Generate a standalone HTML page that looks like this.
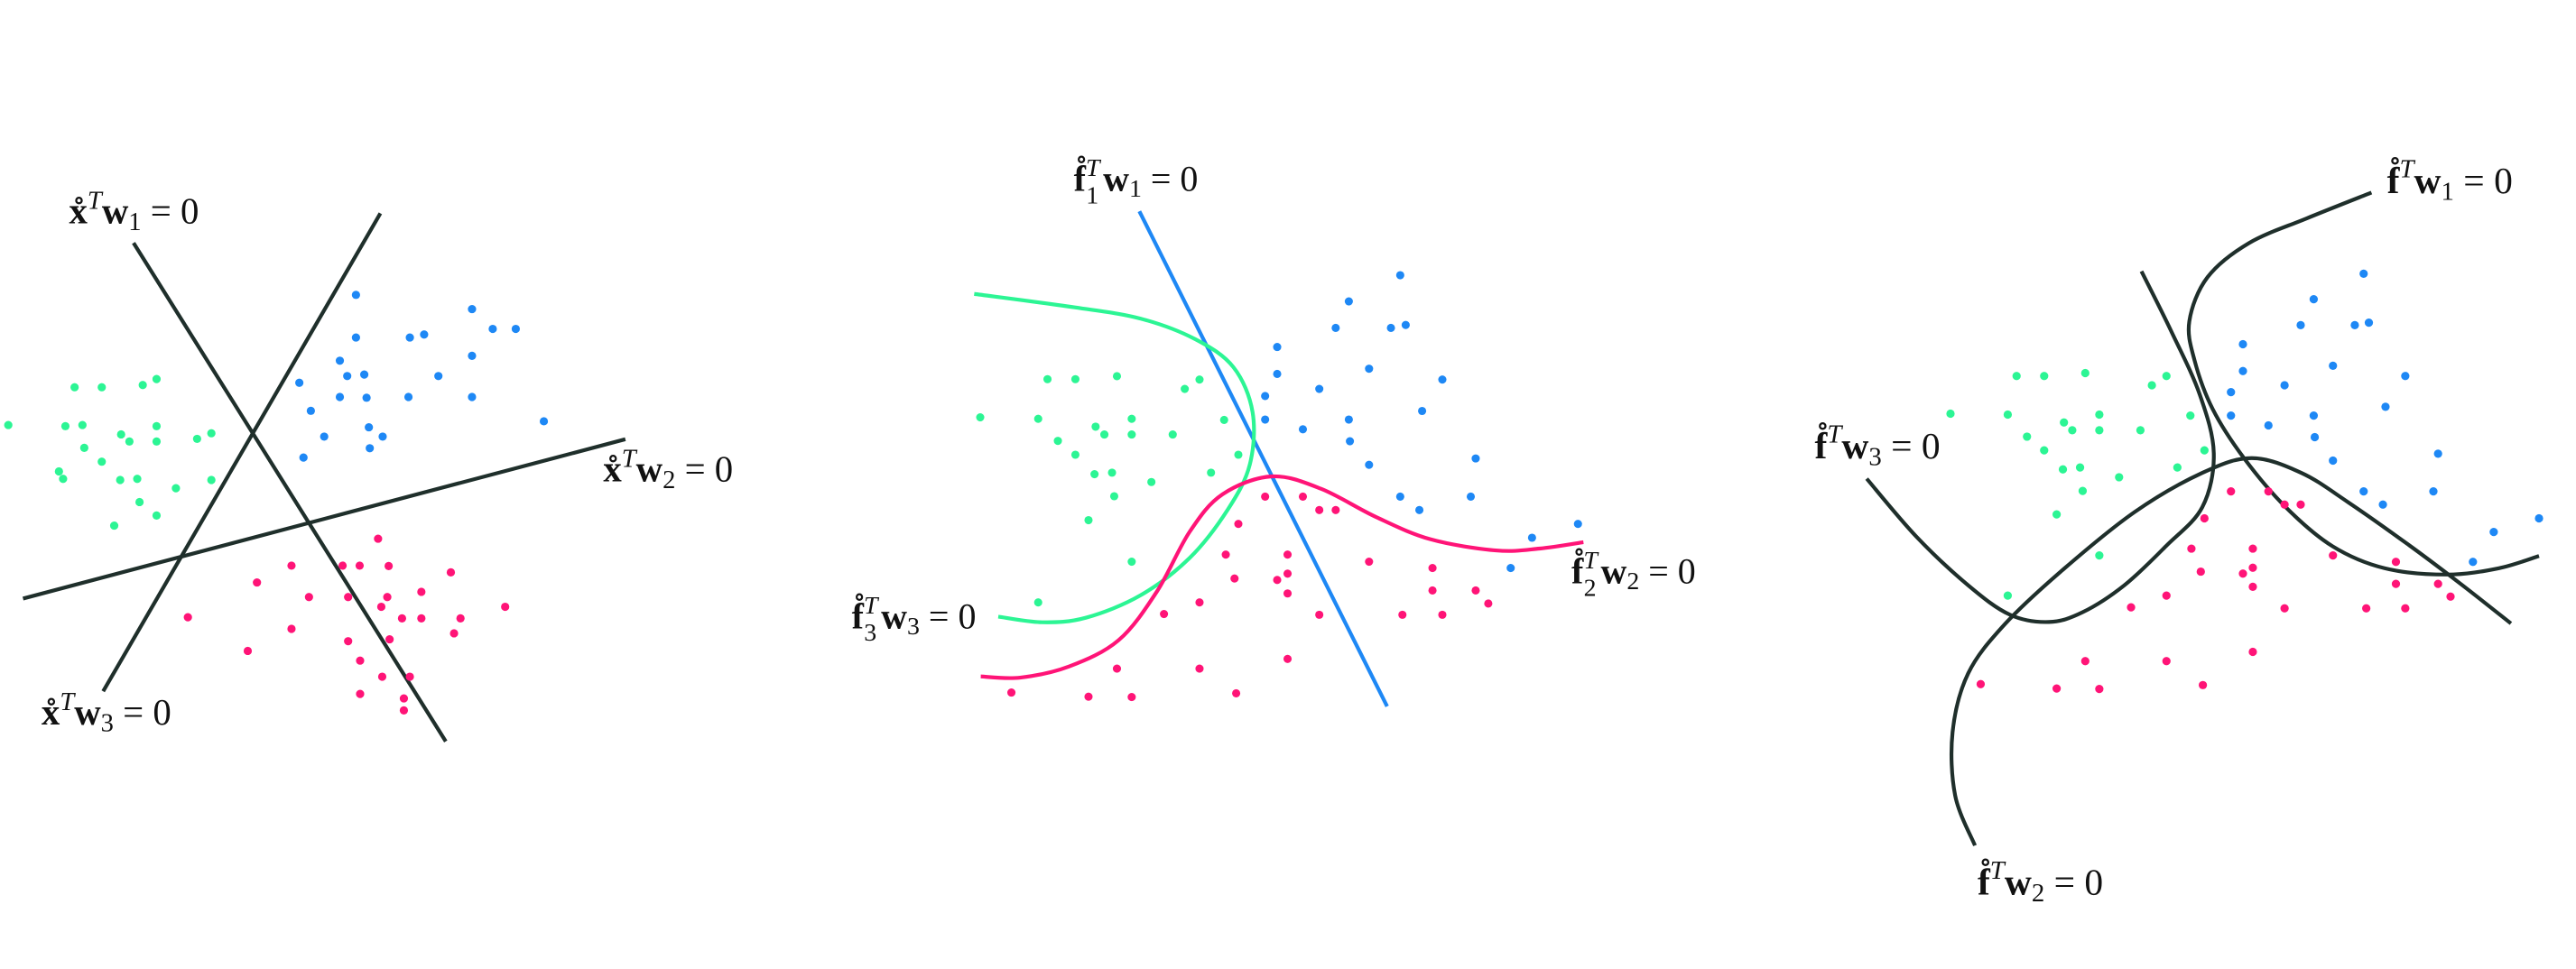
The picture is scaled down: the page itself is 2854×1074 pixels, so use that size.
<!DOCTYPE html>
<html><head><meta charset="utf-8"><style>
html,body{margin:0;padding:0;background:#fff;}
svg{display:block;}
text{font-family:"Liberation Serif",serif;fill:#111;}
.b{font-weight:bold;}
</style></head><body>
<svg id="fig" width="2854" height="1074" viewBox="0 0 2854 1074" xmlns="http://www.w3.org/2000/svg">
<rect width="2854" height="1074" fill="#fff"/>
<g id="p1" transform="translate(0,200) scale(0.5102,0.4145)">
<text transform="translate(150,115) scale(1,1.231)" font-size="80"><tspan class="b">x&#778;</tspan><tspan dy="-32" font-size="56" font-style="italic">T</tspan><tspan dy="32" class="b">w</tspan><tspan dy="14" font-size="56">1</tspan><tspan dy="-14"> = 0</tspan></text>
<text transform="translate(1310,805) scale(1,1.231)" font-size="80"><tspan class="b">x&#778;</tspan><tspan dy="-32" font-size="56" font-style="italic">T</tspan><tspan dy="32" class="b">w</tspan><tspan dy="14" font-size="56">2</tspan><tspan dy="-14"> = 0</tspan></text>
<text transform="translate(90,1455) scale(1,1.231)" font-size="80"><tspan class="b">x&#778;</tspan><tspan dy="-32" font-size="56" font-style="italic">T</tspan><tspan dy="32" class="b">w</tspan><tspan dy="14" font-size="56">3</tspan><tspan dy="-14"> = 0</tspan></text>
</g>
<g id="p2" transform="translate(900,150) scale(0.6059,0.4145)">
<text transform="translate(478,148) scale(1,1.462)" font-size="66"><tspan class="b">f&#778;</tspan><tspan dy="-27" font-size="46" font-style="italic">T</tspan><tspan dx="-25" dy="50" font-size="46">1</tspan><tspan dx="8" dy="-23" class="b">w</tspan><tspan dy="11" font-size="46">1</tspan><tspan dy="-11"> = 0</tspan></text>
<text transform="translate(1388,1198) scale(1,1.462)" font-size="66"><tspan class="b">f&#778;</tspan><tspan dy="-27" font-size="46" font-style="italic">T</tspan><tspan dx="-25" dy="50" font-size="46">2</tspan><tspan dx="8" dy="-23" class="b">w</tspan><tspan dy="11" font-size="46">2</tspan><tspan dy="-11"> = 0</tspan></text>
<text transform="translate(72,1318) scale(1,1.462)" font-size="66"><tspan class="b">f&#778;</tspan><tspan dy="-27" font-size="46" font-style="italic">T</tspan><tspan dx="-25" dy="50" font-size="46">3</tspan><tspan dx="8" dy="-23" class="b">w</tspan><tspan dy="11" font-size="46">3</tspan><tspan dy="-11"> = 0</tspan></text>
</g>
<g id="p3" transform="translate(1950,150) scale(0.5765,0.5421)">
<text transform="translate(1205,118) scale(1,1.0635)" font-size="72"><tspan class="b">f&#778;</tspan><tspan dy="-30" font-size="50" font-style="italic">T</tspan><tspan dy="30" class="b">w</tspan><tspan dy="13" font-size="50">1</tspan><tspan dy="-13"> = 0</tspan></text>
<text transform="translate(105,660) scale(1,1.0635)" font-size="72"><tspan class="b">f&#778;</tspan><tspan dy="-30" font-size="50" font-style="italic">T</tspan><tspan dy="30" class="b">w</tspan><tspan dy="13" font-size="50">3</tspan><tspan dy="-13"> = 0</tspan></text>
<text transform="translate(418,1552) scale(1,1.0635)" font-size="72"><tspan class="b">f&#778;</tspan><tspan dy="-30" font-size="50" font-style="italic">T</tspan><tspan dy="30" class="b">w</tspan><tspan dy="13" font-size="50">2</tspan><tspan dy="-13"> = 0</tspan></text>
</g>
</svg>
<script>
const NS="http://www.w3.org/2000/svg";
const BLUE="#1e88f5",GREEN="#2cf594",PINK="#ff1477",DARK="#1f2f2b";
// Panel 1 data
const p1BlueX=[773,1025,1070,1120,773,890,921,1025,738,754,791,952,650,738,796,887,1025,675,1181,801,704,831,803,659];
const p1BlueY=[306,344,397,397,420,420,412,469,482,523,519,523,541,579,581,579,579,616,644,660,685,685,716,741];
const p1GreenX=[162,221,310,340,18,142,179,263,281,340,340,428,459,183,221,128,137,261,298,382,459,303,340,248];
const p1GreenY=[553,553,547,531,654,657,654,679,698,657,698,691,676,715,752,778,798,801,798,823,801,860,896,923];
const p1PinkX=[821,633,744,781,844,979,558,671,756,841,915,828,1097,408,873,915,1000,633,986,756,846,538,782,830,890,782,877,877];
const p1PinkY=[958,1030,1030,1030,1031,1048,1075,1114,1114,1114,1100,1140,1140,1168,1171,1171,1171,1199,1211,1232,1227,1258,1284,1327,1327,1373,1385,1417];
const p1Line1=[[290,167],[968,1500]];
const p1Line2=[[50,1118],[1358,692]];
const p1Line3=[[826,88],[224,1366]];
// Panel 2 data
const p2BlueX=[1075,981,957,1058,1085,850,850,1018,1152,828,927,1115,828,897,981,983,1018,1213,1075,1204,1110,1316,1400,1277];
const p2BlueY=[374,444,515,515,507,566,638,624,653,697,678,737,760,786,760,818,881,864,966,966,1002,1076,1039,1157];
const p2GreenX=[430,481,557,681,708,307,413,518,534,584,584,659,753,449,481,779,516,548,620,729,552,505,584,413];
const p2GreenY=[652,652,644,678,653,754,758,779,800,758,800,800,761,817,854,854,906,902,927,902,965,1029,1140,1249];
const p2PinkX=[828,897,927,957,779,756,869,1018,1134,772,850,869,869,1134,1213,1236,708,643,927,1079,1152,869,557,708,364,505,584,775];
const p2PinkY=[966,966,1002,1002,1039,1121,1121,1140,1157,1185,1189,1172,1225,1217,1217,1252,1249,1280,1282,1282,1282,1400,1426,1426,1490,1501,1502,1492];
const p2Line1=[[598,203],[1051,1527]];
const p2Curve3=[[296,424],[480,460],[600,490],[700,545],[770,620],[805,740],[800,880],[760,1000],[690,1130],[600,1230],[500,1290],[420,1302],[340,1287]];
const p2Curve2=[[308,1447],[380,1450],[470,1420],[560,1350],[630,1220],[690,1060],[750,960],[840,912],[930,945],[1030,1020],[1130,1080],[1250,1110],[1330,1105],[1410,1088]];
// Panel 3 data
const p3BlueX=[1160,1064,1039,1143,1170,928,928,1101,1240,905,1008,1202,905,977,1064,1066,1101,1303,1160,1294,1197,1410,1497,1370];
const p3BlueY=[283,335,388,388,383,427,482,471,492,525,511,555,573,593,573,617,665,651,728,728,755,811,783,872];
const p3GreenX=[493,546,625,753,781,366,476,584,600,652,652,731,827,513,546,854,582,615,690,802,620,570,652,476];
const p3GreenY=[492,492,486,511,492,569,571,587,603,571,603,603,573,616,644,644,683,679,699,679,727,775,859,941];
const p3PinkX=[905,977,1008,1039,854,829,947,1101,1222,847,928,947,947,1222,1303,1327,781,713,1008,1165,1240,947,625,781,424,570,652,851];
const p3PinkY=[728,728,755,755,783,845,845,859,872,892,896,884,923,917,917,943,941,965,967,967,967,1056,1075,1075,1122,1131,1132,1124];
const p3Curve1=[[1175,117],[1050,170],[940,220],[860,290],[825,380],[835,460],[870,560],[930,660],[1010,760],[1100,840],[1200,885],[1320,898],[1420,885],[1497,860]];
const p3Curve3=[[733,278],[790,400],[845,530],[872,650],[850,760],[780,840],[700,920],[620,975],[555,995],[480,980],[400,920],[300,820],[205,702]];
const p3Curve2=[[413,1452],[375,1350],[370,1220],[400,1100],[470,1000],[580,890],[720,770],[850,690],[945,660],[1040,690],[1130,750],[1250,840],[1350,920],[1443,998]];

function smoothPath(pts){
  let d="M"+pts[0][0]+","+pts[0][1];
  for(let i=0;i<pts.length-1;i++){
    const p0=pts[Math.max(i-1,0)],p1=pts[i],p2=pts[i+1],p3=pts[Math.min(i+2,pts.length-1)];
    const c1=[p1[0]+(p2[0]-p0[0])/6,p1[1]+(p2[1]-p0[1])/6];
    const c2=[p2[0]-(p3[0]-p1[0])/6,p2[1]-(p3[1]-p1[1])/6];
    d+=" C"+c1[0]+","+c1[1]+" "+c2[0]+","+c2[1]+" "+p2[0]+","+p2[1];
  }
  return d;
}
function addCurve(g,pts,color,w,name){
  const p=document.createElementNS(NS,"path");
  p.setAttribute("d",smoothPath(pts));
  p.setAttribute("fill","none");
  p.setAttribute("stroke",color);
  p.setAttribute("stroke-width",w);
  p.setAttribute("vector-effect","non-scaling-stroke");
  
  
  g.insertBefore(p,g.firstChild);
}
function addDots(g,xs,ys,color,r,ratio,name){
  for(let i=0;i<xs.length;i++){
    const c=document.createElementNS(NS,"ellipse");
    c.setAttribute("cx",xs[i]);c.setAttribute("cy",ys[i]);
    c.setAttribute("rx",r);c.setAttribute("ry",r*ratio);
    c.setAttribute("fill",color);
    
    
    g.appendChild(c);
  }
}
const g1=document.getElementById("p1"),g2=document.getElementById("p2"),g3=document.getElementById("p3");
addCurve(g1,p1Line1,DARK,4.2,"boundary-w1");
addCurve(g1,p1Line2,DARK,4.2,"boundary-w2");
addCurve(g1,p1Line3,DARK,4.2,"boundary-w3");
addDots(g1,p1BlueX,p1BlueY,BLUE,9,1.231,"blue-point");
addDots(g1,p1GreenX,p1GreenY,GREEN,9,1.231,"green-point");
addDots(g1,p1PinkX,p1PinkY,PINK,9,1.231,"pink-point");
addCurve(g2,p2Curve2,PINK,4.2,"boundary-f2w2");
addCurve(g2,p2Curve3,GREEN,4.2,"boundary-f3w3");
addCurve(g2,p2Line1,BLUE,4.2,"boundary-f1w1");
addDots(g2,p2BlueX,p2BlueY,BLUE,7.5,1.462,"blue-point");
addDots(g2,p2GreenX,p2GreenY,GREEN,7.5,1.462,"green-point");
addDots(g2,p2PinkX,p2PinkY,PINK,7.5,1.462,"pink-point");
addCurve(g3,p3Curve1,DARK,4.2,"boundary-fw1");
addCurve(g3,p3Curve2,DARK,4.2,"boundary-fw2");
addCurve(g3,p3Curve3,DARK,4.2,"boundary-fw3");
addDots(g3,p3BlueX,p3BlueY,BLUE,8,1.0635,"blue-point");
addDots(g3,p3GreenX,p3GreenY,GREEN,8,1.0635,"green-point");
addDots(g3,p3PinkX,p3PinkY,PINK,8,1.0635,"pink-point");
</script>
</body></html>
